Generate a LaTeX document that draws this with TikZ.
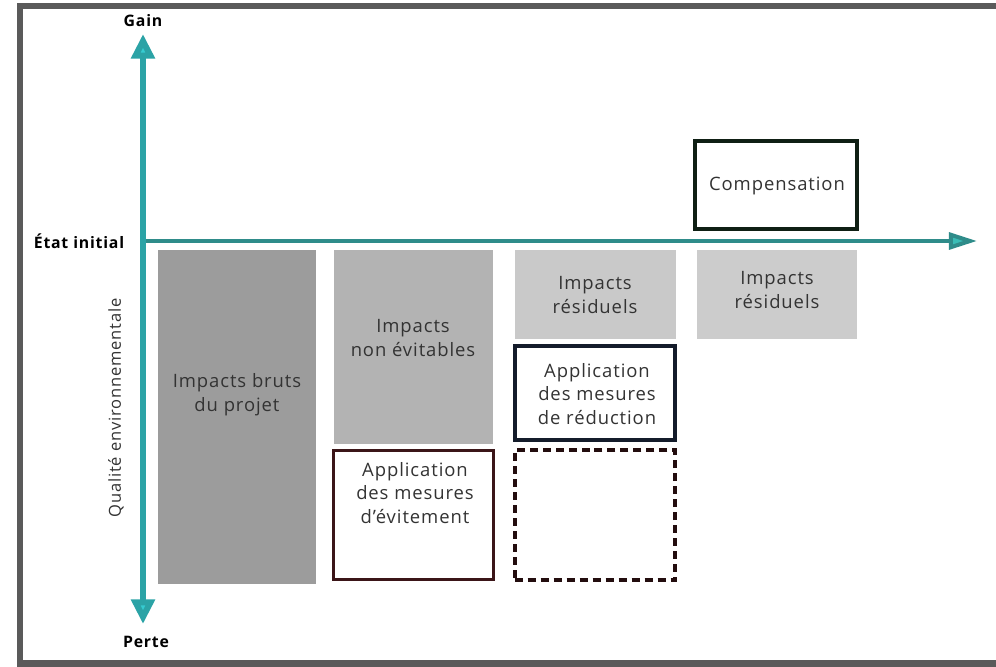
\documentclass[tikz,border=0pt]{standalone}
\usepackage{fontspec}
\setmainfont{Open Sans}[LetterSpace=5]
\usetikzlibrary{arrows.meta}
\definecolor{cadre}{HTML}{5A5A5A}
\definecolor{axeV}{HTML}{2BA3A6}
\definecolor{axeVpt}{HTML}{36CBD0}
\definecolor{axeH}{HTML}{2F8C8A}
\definecolor{axeHpt}{HTML}{3ABDB6}
\definecolor{grisA}{HTML}{9C9C9C}
\definecolor{grisB}{HTML}{B3B3B3}
\definecolor{grisC}{HTML}{C9C9C9}
\definecolor{texte}{HTML}{333333}
\definecolor{evit}{HTML}{3B1518}
\definecolor{reduc}{HTML}{141C2B}
\definecolor{compens}{HTML}{0F1F14}
\tikzset{
  bloc/.style={draw=none,inner sep=0pt},
  txt/.style={text=texte,align=center,font=\fontsize{10.5}{13.6}\selectfont},
  axe/.style={font=\bfseries\fontsize{9}{11}\selectfont,text=black},
}
\begin{document}
\begin{tikzpicture}[x=0.02cm,y=-0.02cm]
\useasboundingbox (0,0) rectangle (996,666);
\fill[white] (0,0) rectangle (996,666);
% cadre
\draw[cadre,line width=0.14cm] (1010,6)--(20,6)--(20,663)--(1010,663);
% blocs gris
\node[bloc,fill=grisA,minimum width=3.16cm,minimum height=6.68cm] (bruts) at (237,417) {};
\node[txt] (tbruts) at (237,395) {Impacts bruts\\du projet};
\node[bloc,fill=grisB,minimum width=3.18cm,minimum height=3.88cm] (nonevit) at (413.5,347) {};
\node[txt] (tnonevit) at (413,338) {Impacts\\non évitables};
\node[bloc,fill=grisC,minimum width=3.22cm,minimum height=1.78cm] (resid1) at (595.5,294.5) {};
\node[txt] (tresid1) at (595,295) {Impacts\\résiduels};
\node[bloc,fill=grisC!95!white,minimum width=3.2cm,minimum height=1.78cm] (resid2) at (777,294.5) {};
\node[txt] (tresid2) at (777,290) {Impacts\\résiduels};
% blocs encadres
\node[draw=evit,line width=0.06cm,minimum width=3.2cm,minimum height=2.6cm,inner sep=0pt] (evitement) at (413.5,515) {};
\node[txt] (tevit) at (415,493) {Application\\des mesures\\d’évitement};
\node[draw=reduc,line width=0.08cm,minimum width=3.22cm,minimum height=1.88cm,inner sep=0pt] (reduction) at (595,393) {};
\node[txt] (treduc) at (597,394) {Application\\des mesures\\de réduction};
\node[draw=evit!60!black,line width=0.08cm,dash pattern=on 0.16cm off 0.1cm,minimum width=3.22cm,minimum height=2.6cm,inner sep=0pt] (pointille) at (595,515) {};
\node[draw=compens,line width=0.08cm,minimum width=3.24cm,minimum height=1.76cm,inner sep=0pt] (compensation) at (775.5,185) {};
\node[txt] (tcomp) at (777,186) {Compensation};
% axes
\coordinate (O) at (143,241);
\coordinate (haut) at (143,34);
\coordinate (bas) at (143,624);
\coordinate (droite) at (977,241);
\draw[axeH,line width=0.08cm,-{Triangle[length=16pt,width=9.5pt,fill=axeHpt]}] (O)--(droite);
\draw[axeV,line width=0.12cm,-{Triangle[length=14pt,width=13pt,fill=axeVpt]}] (O)--(haut);
\draw[axeV,line width=0.12cm,-{Triangle[length=14pt,width=13pt,fill=axeVpt]}] (O)--(bas);
\node[axe] (gain) at (143,21) {Gain};
\node[axe] (perte) at (146,642) {Perte};
\node[axe] (etat) at (79,241) {État initial};
\node[txt,rotate=90,font=\fontsize{9.4}{12}\selectfont] (qualite) at (116,408) {Qualité environnementale};
\end{tikzpicture}
\end{document}
